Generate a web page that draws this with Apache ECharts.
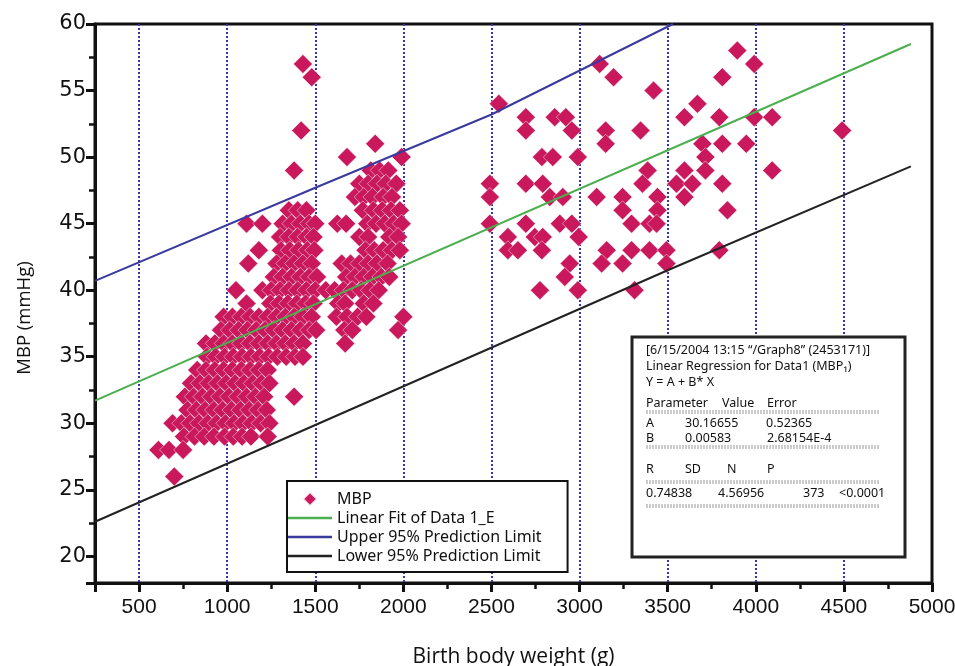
<!DOCTYPE html>
<html><head><meta charset="utf-8">
<script src="https://cdn.jsdelivr.net/npm/echarts@6/dist/echarts.min.js"></script>
<style>html,body{margin:0;padding:0;background:#fff}#c{width:955px;height:666px}</style>
</head><body><div id="c"></div>
<script>
// Birth body weight (g), MBP (mmHg) — low-weight cluster
const lowWeightPoints = [
  [1430,57],[1480,56],[1420,52],[1840,51],[1680,50],[1990,50],
  [1380,49],[1815,49],[1865,49],[1915,49],
  [1750,48],[1800,48],[1850,48],[1900,48],[1960,48],
  [1725,47],[1775,47],[1825,47],[1885,47],[1935,47],
  [1350,46],[1400,46],[1450,46],[1770,46],[1830,46],[1880,46],[1930,46],[1980,46],
  [1110,45],[1200,45],[1315,45],[1365,45],[1415,45],[1465,45],[1500,45],[1625,45],[1675,45],[1795,45],[1845,45],[1895,45],[1945,45],[1990,45],
  [1300,44],[1350,44],[1400,44],[1450,44],[1490,44],[1750,44],[1800,44],[1920,44],[1970,44],
  [1180,43],[1305,43],[1355,43],[1405,43],[1455,43],[1495,43],[1785,43],[1835,43],[1885,43],[1935,43],[1980,43],
  [1120,42],[1280,42],[1330,42],[1380,42],[1430,42],[1480,42],[1650,42],[1700,42],[1750,42],[1800,42],[1850,42],[1910,42],
  [1265,41],[1315,41],[1365,41],[1415,41],[1465,41],[1510,41],[1675,41],[1725,41],[1775,41],[1825,41],[1875,41],[1920,41],
  [1050,40],[1200,40],[1250,40],[1300,40],[1350,40],[1400,40],[1450,40],[1500,40],[1560,40],[1610,40],[1660,40],[1710,40],[1760,40],[1810,40],[1860,40],
  [1110,39],[1245,39],[1295,39],[1345,39],[1395,39],[1445,39],[1490,39],[1630,39],[1670,39],[1775,39],[1830,39],
  [980,38],[1030,38],[1080,38],[1130,38],[1180,38],[1230,38],[1280,38],[1330,38],[1380,38],[1430,38],[1480,38],[1620,38],[1680,38],[1740,38],[1790,38],[2000,38],
  [965,37],[1015,37],[1065,37],[1115,37],[1165,37],[1215,37],[1265,37],[1315,37],[1365,37],[1415,37],[1465,37],[1505,37],[1665,37],[1710,37],[1970,37],
  [880,36],[930,36],[980,36],[1030,36],[1080,36],[1130,36],[1180,36],[1230,36],[1280,36],[1330,36],[1380,36],[1430,36],[1670,36],
  [885,35],[935,35],[985,35],[1035,35],[1085,35],[1135,35],[1185,35],[1235,35],[1285,35],[1335,35],[1385,35],[1430,35],
  [830,34],[880,34],[930,34],[980,34],[1030,34],[1080,34],[1130,34],[1180,34],[1230,34],
  [795,33],[845,33],[895,33],[945,33],[995,33],[1045,33],[1095,33],[1145,33],[1195,33],[1240,33],
  [760,32],[810,32],[860,32],[910,32],[960,32],[1010,32],[1060,32],[1110,32],[1160,32],[1210,32],[1380,32],
  [775,31],[825,31],[875,31],[925,31],[975,31],[1025,31],[1075,31],[1125,31],[1175,31],[1225,31],
  [690,30],[740,30],[790,30],[840,30],[890,30],[940,30],[990,30],[1040,30],[1090,30],[1140,30],[1190,30],[1240,30],
  [755,29],[815,29],[870,29],[925,29],[985,29],[1035,29],[1085,29],[1135,29],[1230,29],
  [610,28],[670,28],[750,28],[700,26]
];
// high-weight cluster
const highWeightPoints = [
  [3895,58],[3114,57],[3991,57],[3193,56],[3810,56],[3420,55],[2542,54],[3669,54],
  [2695,53],[2859,53],[2922,53],[3595,53],[3793,53],[3991,53],[4093,53],
  [2695,52],[2956,52],[3148,52],[3346,52],[4490,52],
  [3148,51],[3697,51],[3810,51],[3946,51],
  [2786,50],[2848,50],[2990,50],[3714,50],
  [3386,49],[3595,49],[3714,49],[4093,49],
  [2491,48],[2695,48],[2791,48],[3357,48],[3550,48],[3640,48],[3810,48],
  [2491,47],[2831,47],[2905,47],[3097,47],[3244,47],[3442,47],[3595,47],
  [3244,46],[3442,46],[3839,46],
  [2491,45],[2695,45],[2888,45],[2956,45],[3295,45],[3397,45],[3437,45],
  [2593,44],[2746,44],[2791,44],[2995,44],
  [2593,43],[2650,43],[2786,43],[3154,43],[3295,43],[3397,43],[3493,43],[3793,43],
  [2944,42],[3125,42],[3244,42],[3493,42],
  [2916,41],[2775,40],[2990,40],[3312,40]
];
const fitLine = [[250,31.7],[4880,58.5]];
const upperLimit = [[250,40.7],[1500,47.7],[2500,53.2],[3530,60]];
const lowerLimit = [[250,22.6],[3500,41.5],[4880,49.3]];
const seriesNames = ['MBP','Linear Fit of Data 1_E','Upper 95% Prediction Limit','Lower 95% Prediction Limit'];
const statsHeader = ['[6/15/2004 13:15 \u201c/Graph8\u201d (2453171)]','Linear Regression for Data1 (MBP\u2081)','Y = A + B* X'];

const chart = echarts.init(document.getElementById('c'), null, {renderer:'canvas'});
const boxFont = '12.5px "Noto Sans", sans-serif';
function t(x,y,s){return {type:'text',x:x,y:y,z:101,style:{text:s,font:boxFont,fill:'#111',verticalAlign:'middle'}};}
function sep(y){return [
  {type:'line',z:101,shape:{x1:646,y1:y-1,x2:880,y2:y-1},style:{stroke:'#999',lineWidth:1,lineDash:[2,1]}},
  {type:'line',z:101,shape:{x1:646,y1:y+1,x2:880,y2:y+1},style:{stroke:'#999',lineWidth:1,lineDash:[2,1]}}];}

const graphics = [
  {type:'text',x:25,y:318,rotation:Math.PI/2,z:50,style:{text:'MBP (mmHg)',font:'18.5px "Open Sans", sans-serif',fill:'#111',align:'center',verticalAlign:'middle'}},
  {type:'rect',z:100,shape:{x:632,y:337,width:273,height:220},style:{fill:'#fff',stroke:'#222',lineWidth:3}},
  t(646,350,statsHeader[0]), t(646,366,statsHeader[1]), t(646,382,statsHeader[2]),
  t(646,403,'Parameter'), t(722,403,'Value'), t(767,403,'Error'),
  ...sep(412),
  t(646,423,'A'), t(685,423,'30.16655'), t(766,423,'0.52365'),
  t(646,438,'B'), t(685,438,'0.00583'), t(767,438,'2.68154E-4'),
  ...sep(447),
  t(646,469,'R'), t(685,469,'SD'), t(727,469,'N'), t(767,469,'P'),
  ...sep(482),
  t(646,493,'0.74838'), t(718,493,'4.56956'), t(803,493,'373'), t(839,493,'<0.0001'),
  ...sep(506)
];
const lineIcon = 'path://M0,0L44,0L44,2.5L0,2.5Z';

chart.setOption({
  animation:false,
  backgroundColor:'#fff',
  grid:{left:95,right:23,top:24,bottom:83,outerBoundsMode:'none',containLabel:false,show:true,borderColor:'#111',borderWidth:3,backgroundColor:'transparent'},
  xAxis:{type:'value',min:250,max:5000,splitNumber:10,
    name:'Birth body weight (g)',nameLocation:'middle',nameGap:64,
    nameTextStyle:{fontSize:21,fontFamily:'"Open Sans", sans-serif',color:'#111'},
    axisLine:{show:true,lineStyle:{color:'#111',width:3}},
    axisTick:{show:true,length:9,lineStyle:{color:'#111',width:3}},
    minorTick:{show:true,splitNumber:2,length:6,lineStyle:{color:'#111',width:2.5}},
    axisLabel:{fontSize:21,fontFamily:'"Liberation Sans Narrow", "Liberation Sans", sans-serif',color:'#111',margin:14,
      formatter:function(v){return v%500===0?String(v):'';}},
    splitLine:{show:true,showMinLine:false,showMaxLine:false,lineStyle:{color:'#3434b0',width:2,type:[2,2]}}
  },
  yAxis:{type:'value',min:18,max:60,splitNumber:8,
    axisLine:{show:true,lineStyle:{color:'#111',width:3}},
    axisTick:{show:true,length:9,lineStyle:{color:'#111',width:3}},
    minorTick:{show:true,splitNumber:2,length:6,lineStyle:{color:'#111',width:2.5}},
    axisLabel:{fontSize:21,fontFamily:'"DejaVu Sans", sans-serif',color:'#111',margin:9,
      formatter:function(v){return v%5===0?String(v):'';}},
    splitLine:{show:false}
  },
  legend:{orient:'vertical',left:287,top:481,padding:[10,26,8,1],itemWidth:44,itemHeight:14,itemGap:3,
    backgroundColor:'#fff',borderColor:'#111',borderWidth:2,z:20,symbolKeepAspect:true,
    textStyle:{fontSize:16,fontFamily:'"Noto Sans", sans-serif',color:'#111'},
    data:[{name:seriesNames[0],icon:'path://M5,0L10,5L5,10L0,5Z'},
          {name:seriesNames[1],icon:lineIcon},{name:seriesNames[2],icon:lineIcon},{name:seriesNames[3],icon:lineIcon}]},
  graphic:graphics,
  series:[
    {name:seriesNames[0],type:'scatter',symbol:'diamond',symbolSize:19,
      itemStyle:{color:'#c9185c',opacity:1,borderColor:'rgba(255,255,255,0.8)',borderWidth:0.6},
      data:lowWeightPoints.concat(highWeightPoints),z:2},
    {name:seriesNames[1],type:'line',data:fitLine,symbol:'none',lineStyle:{color:'#4bae4f',width:2},itemStyle:{color:'#4bae4f'},z:3},
    {name:seriesNames[2],type:'line',data:upperLimit,symbol:'none',lineStyle:{color:'#3a3a9e',width:2},itemStyle:{color:'#3a3a9e'},z:3},
    {name:seriesNames[3],type:'line',data:lowerLimit,symbol:'none',lineStyle:{color:'#222',width:2},itemStyle:{color:'#222'},z:3}
  ]
});
</script></body></html>
